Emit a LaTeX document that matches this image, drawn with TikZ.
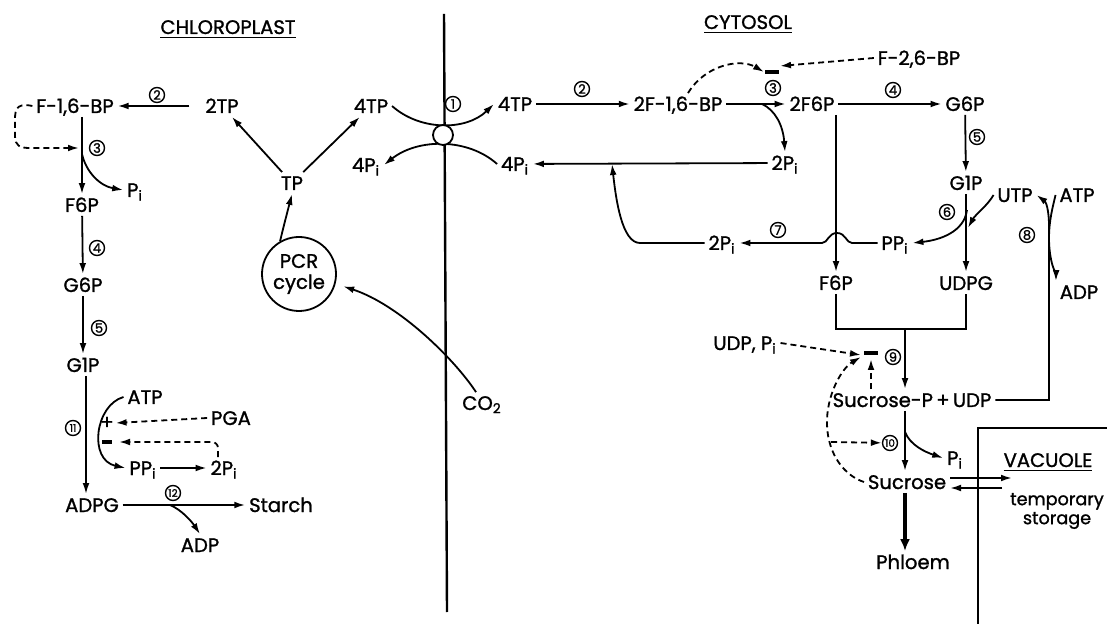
\documentclass[tikz,border=0pt]{standalone}
\usepackage{fontspec}
\setmainfont{Poppins}[FakeBold=1.2]
\usetikzlibrary{arrows.meta}

\tikzset{
  lbl/.style={inner sep=1.5pt, text height=7pt, text depth=0pt},
  enz/.style={circle, draw, fill=white, line width=0.7pt, inner sep=0pt, minimum size=7.5pt, font=\fontsize{6.5}{7}\selectfont},
  enzz/.style={enz, font=\fontsize{5.2}{6}\selectfont},
  arr/.style={-{Latex[length=5.5pt,width=3.4pt]}},
  dsh/.style={dash pattern=on 3pt off 2pt, -{Latex[length=5.5pt,width=3.4pt]}},
  bar/.style={line width=1.6pt},
}
\newcommand{\Pisub}{P\textsubscript{i}}

\begin{document}
\begin{tikzpicture}[x=0.5pt, y=-0.5pt, line width=0.9pt, font=\fontsize{9.8}{11}\selectfont]
\useasboundingbox (0,0) rectangle (1107,624);

% membrane
\draw[line width=1.2pt] (444,14) -- (447,612);

% Headings
\node[lbl] (chl) at (228,27) {\underline{CHLOROPLAST}};
\node[lbl] (cyt) at (748,22) {\underline{CYTOSOL}};
\node[lbl] (vac) at (1048,460) {\underline{VACUOLE}};
\node[align=center, font=\fontsize{8.8}{9.5}\selectfont] (store) at (1057,511) {temporary\\storage};

% Chloroplast nodes
\node[lbl] (f16bp) at (75,106) {F-1,6-BP};
\node[lbl] (tp2) at (222,106) {2TP};
\node[lbl] (tpL) at (371,106) {4TP};
\node[lbl] (piL) at (366,165) {4\Pisub};
\node[lbl] (tp) at (292,183) {TP};
\node[circle, draw, align=center, inner sep=0pt, minimum size=37pt, font=\fontsize{9.8}{10.5}\selectfont] (pcr) at (299,274) {PCR\\cycle};
\node[lbl] (co2) at (482,403) {CO\textsubscript{2}};
\node[lbl] (f6pL) at (82,205) {F6P};
\node[lbl] (piF) at (135,190) {\Pisub};
\node[lbl] (g6pL) at (83,285) {G6P};
\node[lbl] (g1pL) at (83,365) {G1P};
\node[lbl] (atpL) at (145,397) {ATP};
\node[lbl] (pga) at (231,418) {PGA};
\node[lbl] (ppiL) at (143,468) {P\Pisub};
\node[lbl] (pi2L) at (224,468) {2\Pisub};
\node[lbl] (adpg) at (92,505) {ADPG};
\node[lbl] (starch) at (281,505) {Starch};
\node[lbl] (adpL) at (200,545) {ADP};
\node[inner sep=0.5pt] (plus) at (107,423) {+};

% Cytosol nodes
\node[lbl] (tpR) at (515,104) {4TP};
\node[lbl] (piR) at (515,164) {4\Pisub};
\node[lbl] (f16bp2) at (678,104) {2F-1,6-BP};
\node[lbl] (f26) at (919,58) {F-2,6-BP};
\node[lbl] (f6p2) at (812,104) {2F6P};
\node[lbl] (g6pR) at (965,104) {G6P};
\node[lbl] (pi2a) at (785,163) {2\Pisub};
\node[lbl] (g1pR) at (966,183) {G1P};
\node[lbl] (utp) at (1015,195) {UTP};
\node[lbl] (atpR) at (1077,195) {ATP};
\node[lbl] (adpR) at (1079,292) {ADP};
\node[lbl] (ppiR) at (895,243) {P\Pisub};
\node[lbl] (pi2b) at (722,243) {2\Pisub};
\node[lbl] (f6pR) at (836,283) {F6P};
\node[lbl] (udpg) at (966,283) {UDPG};
\node[lbl] (udppi) at (745,343) {UDP, \Pisub};
\node[lbl] (sucp) at (912,400) {Sucrose-P\,+\,UDP};
\node[lbl] (pifree) at (955,458) {\Pisub};
\node[lbl] (suc) at (907,482) {Sucrose};
\node[lbl] (phl) at (913,562) {Phloem};

% Chloroplast edges
\draw[arr, shorten <=6pt] (tp2) -- (f16bp);
\draw[arr] (f16bp.south -| f6pL) -- (f6pL);
\coordinate (j3L) at (82,148);
\draw[dsh] (f16bp.west) .. controls (14,102) and (15,112) .. (15,124) -- (15,136) .. controls (15,146) and (20,148) .. (30,148) -- ([xshift=-1.5pt]j3L);
\draw[arr] ([yshift=-3pt]j3L) .. controls (86,172) and (100,186) .. (piF.west);
\draw[arr] (f6pL) -- (g6pL);
\draw[arr] (g6pL) -- (g1pL);
\coordinate (c11) at (86,428);
\draw[arr] (g1pL.south -| c11) -- (adpg.north -| c11);
\draw[arr] (atpL.west) .. controls (95,405) and (88,460) .. (ppiL.west);
\draw[dsh] (pga.west) -- (plus.east);
\coordinate (m11) at (107,442);
\draw[dsh, rounded corners=3pt] ([xshift=-3pt]pi2L.north) |- ([xshift=6pt]m11);
\draw[bar] ([xshift=-2.5pt]m11) -- ([xshift=2.5pt]m11);
\draw[arr] (ppiL) -- (pi2L);
\draw[arr] (adpg) -- (starch);
\coordinate (j12) at (170,505);
\draw[arr] (j12) .. controls (182,510) and (192,522) .. (adpL.north);
\draw[arr] (tp) -- (tp2);
\draw[arr] (tp) -- (tpL);
\draw[arr] (pcr.120) .. controls (284,225) .. (tp.south);
\draw[arr, shorten >=4pt] ([xshift=-3pt]co2.north) .. controls (455,360) and (400,305) .. (pcr.-15);

% Transporter
\draw[arr] (tpL.east) .. controls (420,131) and (466,131) .. (tpR.west);
\draw[arr] (piR.west) .. controls (468,138) and (418,138) .. (piL.east);
\node[circle, draw, fill=white, inner sep=0pt, minimum size=10pt] (trans) at (443,135) {};

% Cytosol edges
\draw[arr] (tpR) -- (f16bp2);
\draw[arr] (f16bp2) -- (f6p2);
\coordinate (j3R) at (762,104);
\draw[arr] (j3R) .. controls (775,110) and (783,125) .. (pi2a.north);
\coordinate (b3) at (772,72);
\draw[dsh] ([xshift=5pt]f16bp2.north) .. controls (705,65) and (740,58) .. ([xshift=-4pt]b3);
\draw[dsh] (f26.west) -- ([xshift=4pt,yshift=3pt]b3);
\draw[bar] ([xshift=-3.5pt]b3) -- ([xshift=3.5pt]b3);
\draw[arr] (f6p2) -- (g6pR);
\draw[arr] (pi2a) -- (piR);
\coordinate (j7) at (612,164);
\draw[arr] (pi2b.west) -- (640,243) .. controls (622,243) and (616,200) .. (j7);
\draw[arr] (f6p2.south -| f6pR) -- (f6pR);
\draw[arr] (ppiR.west) -- (852,243) .. controls (846,243) and (846,233) .. (837,233) .. controls (828,233) and (828,243) .. (822,243) -- (pi2b);
\draw[arr] (g6pR) -- (g1pR);
\draw[arr] (g1pR) -- (udpg);
\coordinate (j6) at (968,228);
\draw[arr] (utp.west) .. controls (988,205) and (975,215) .. (j6);
\coordinate (j6b) at (967,210);
\draw[arr] (j6b) .. controls (964,232) and (940,240) .. (ppiR.east);
\coordinate (k8) at (1049,400);
\draw[arr] (sucp.east) -- (k8) -- (1049,226) .. controls (1049,210) and (1046,202) .. (utp.east);
\draw[arr] (atpR.west) .. controls (1053,206) and (1049,220) .. (1049,238) .. controls (1049,262) and (1056,276) .. (adpR.north west);

% Sucrose synthesis
\coordinate (mC) at (905,329);
\draw (f6pR) -- (f6pR |- mC) -- (udpg |- mC) -- (udpg);
\draw[arr] (mC) -- (sucp.north -| mC);
\coordinate (b9) at (871,353);
\draw[bar] ([xshift=-3.5pt]b9) -- ([xshift=3.5pt]b9);
\draw[dsh] (udppi.east) -- ([xshift=-5pt,yshift=-1pt]b9);
\draw[dsh] (sucp.north -| b9) -- ([yshift=-3pt]b9);
\draw[arr] (sucp.south -| mC) -- (suc.north -| mC);
\coordinate (j10) at (905,432);
\draw[arr] (j10) .. controls (910,445) and (925,452) .. (pifree.west);
\draw[dsh] (suc.west) .. controls (845,476) and (828,455) .. (827,425) .. controls (826,395) and (842,368) .. ([xshift=-5pt,yshift=-2pt]b9);
\coordinate (j10d) at (831,442);
\draw[arr, line width=2pt, -{Latex[length=6pt,width=5pt]}] (suc.south -| mC) -- (phl.north -| mC);

% Vacuole
\draw (978,624) -- (978,428) -- (1107,428);
\draw[arr] ([yshift=2pt]suc.east) -- ++(62,0);
\draw[arr] ([xshift=26pt,yshift=-3pt]suc.east) -- ([yshift=-3pt]suc.east);

% Enzymes
\node[enz] (e1) at (453,104) {1};
\node[enz] (e2L) at (157,95) {2};
\node[enz] (e3L) at (97,148) {3};
\node[enz] (e4L) at (97,248) {4};
\node[enz] (e5L) at (99,328) {5};
\node[enzz] (e11) at (73,428) {11};
\node[enzz] (e12) at (173,493) {12};
\node[enz] (e2R) at (582,89) {2};
\node[enz] (e3R) at (773,88) {3};
\node[enz] (e4R) at (893,90) {4};
\node[enz] (e5R) at (977,137) {5};
\node[enz] (e6) at (947,212) {6};
\node[enz] (e7) at (778,230) {7};
\node[enz] (e8) at (1027,235) {8};
\node[enz] (e9) at (893,357) {9};
\node[enzz] (e10) at (890,443) {10};
\draw[dsh] (j10d) -- (e10);
\end{tikzpicture}
\end{document}
